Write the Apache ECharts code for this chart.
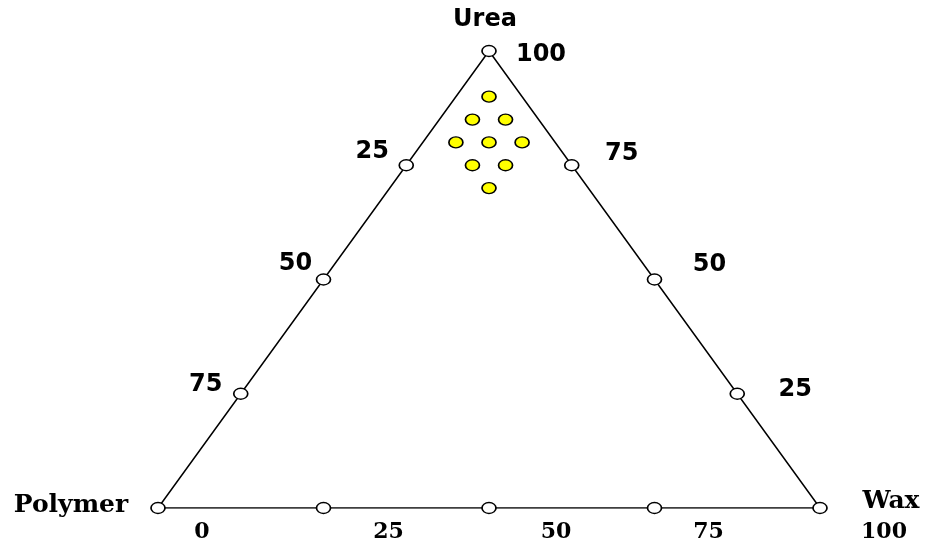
<!DOCTYPE html>
<html>
<head>
<meta charset="utf-8">
<script src="https://cdn.jsdelivr.net/npm/echarts@6/dist/echarts.min.js"></script>
<style>
  html, body { margin: 0; padding: 0; background: #fff; }
  #chart { width: 928px; height: 544px; }
</style>
</head>
<body>
<div id="chart"></div>
<script>
// mixture compositions (percent), one entry per yellow point
const ureaPct    = [90, 85, 85, 80, 80, 80, 75, 75, 70];
const waxPct     = [5, 5, 10, 5, 10, 15, 10, 15, 15];
const polymerPct = [5, 10, 5, 15, 10, 5, 15, 10, 15];

// tick values along the edges
const bottomTicks = [0, 25, 50, 75, 100];   // wax % on the base
const sideTicks = [25, 50, 75];             // polymer % (left), urea % (right)
const vertexNames = ["Polymer", "Wax", "Urea"];

// label shifts in px relative to their tick (style only)
const bottomShift = [[44, 24], [65, 24], [67, 24], [54, 24], [64, 24]];
const leftShift = [[-34, -13], [-28, -16], [-35, -9]];
const rightShift = [[58, -4], [55, -15], [50, -11]];

// ternary -> plot coordinates (x across base, y = urea)
function toXY(urea, wax) {
  return [wax + urea / 2, urea];
}

const sans = { fontFamily: "DejaVu Sans", fontWeight: "bold", fontSize: 24, color: "#000" };
const serif = { fontFamily: "DejaVu Serif", fontWeight: "bold", fontSize: 22, color: "#000" };

const polymerV = toXY(0, 0);
const waxV = toXY(0, 100);
const ureaV = toXY(100, 0);

const tickPoints = []
  .concat(bottomTicks.map((w) => toXY(0, w)))
  .concat(sideTicks.map((p) => toXY(100 - p, 0)))
  .concat(sideTicks.map((u) => toXY(u, 100 - u)))
  .concat([ureaV]);

const labelData = [];
bottomTicks.forEach((w, i) => {
  labelData.push({ value: toXY(0, w), label: Object.assign({ formatter: String(w), offset: bottomShift[i] }, serif) });
});
sideTicks.forEach((p, i) => {
  labelData.push({ value: toXY(100 - p, 0), label: Object.assign({ formatter: String(p), offset: leftShift[i] }, sans) });
});
sideTicks.forEach((u, i) => {
  labelData.push({ value: toXY(u, 100 - u), label: Object.assign({ formatter: String(u), offset: rightShift[i] }, sans) });
});
labelData.push({ value: ureaV, label: Object.assign({ formatter: "100", offset: [52, 4] }, sans) });
labelData.push({ value: ureaV, label: Object.assign({ formatter: vertexNames[2], offset: [-4, -31] }, sans) });
labelData.push({ value: polymerV, label: Object.assign({ formatter: vertexNames[0], offset: [-87, -3] }, serif, { fontSize: 25 }) });
labelData.push({ value: waxV, label: Object.assign({ formatter: vertexNames[1], offset: [71, -7] }, serif, { fontSize: 25 }) });

const mixPoints = ureaPct.map((u, i) => toXY(u, waxPct[i]));

const chart = echarts.init(document.getElementById("chart"));
chart.setOption({
  animation: false,
  backgroundColor: "#fff",
  grid: { left: 158, right: 108, top: 51, bottom: 36 },
  xAxis: { type: "value", min: 0, max: 100, show: false },
  yAxis: { type: "value", min: 0, max: 100, show: false },
  series: [
    {
      type: "line",
      data: [polymerV, waxV, ureaV, polymerV],
      symbol: "none",
      lineStyle: { color: "#000", width: 1.5 },
      silent: true,
      z: 1,
    },
    {
      type: "scatter",
      data: tickPoints,
      symbol: "circle",
      symbolSize: [14, 11],
      itemStyle: { color: "#fff", borderColor: "#000", borderWidth: 1.5, opacity: 1 },
      silent: true,
      z: 2,
    },
    {
      type: "scatter",
      data: mixPoints,
      symbol: "circle",
      symbolSize: [14, 11],
      itemStyle: { color: "#ffff00", borderColor: "#000", borderWidth: 1.5, opacity: 1 },
      silent: true,
      z: 3,
    },
    {
      type: "scatter",
      data: labelData,
      symbolSize: 0,
      itemStyle: { opacity: 1 },
      label: { show: true, position: "inside", align: "center", verticalAlign: "middle", color: "#000" },
      silent: true,
      z: 4,
    },
  ],
});
</script>
</body>
</html>
